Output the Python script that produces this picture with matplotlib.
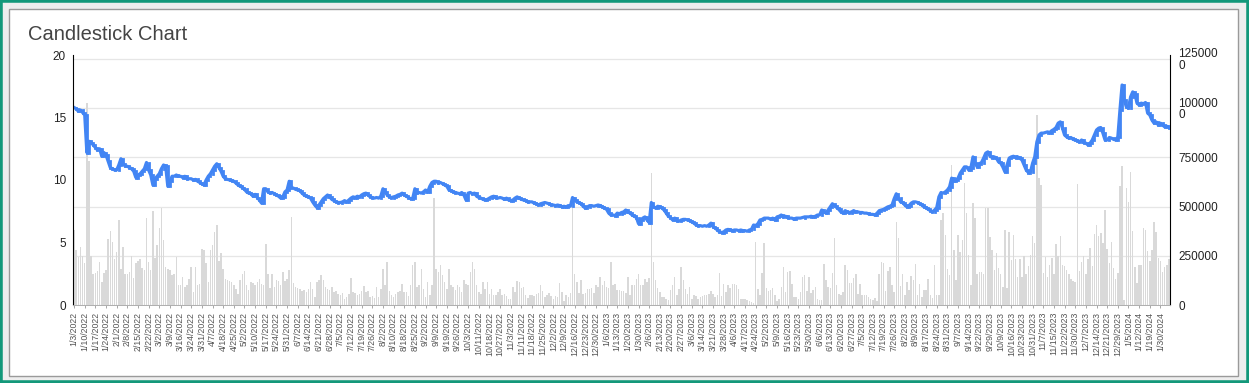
import numpy as np
import matplotlib.pyplot as plt
from matplotlib.patches import Rectangle

plt.rcParams['font.family'] = ['Liberation Sans', 'DejaVu Sans']

W, H = 1249, 383

# x labels, one every 5 trading sessions
tick_labels = [
    '1/3/2022', '1/10/2022', '1/17/2022', '1/24/2022', '2/1/2022', '2/8/2022', '2/15/2022',
    '2/22/2022', '3/2/2022', '3/9/2022', '3/16/2022', '3/24/2022', '3/31/2022', '4/7/2022',
    '4/18/2022', '4/25/2022', '5/2/2022', '5/10/2022', '5/17/2022', '5/24/2022', '5/31/2022',
    '6/7/2022', '6/14/2022', '6/21/2022', '6/28/2022', '7/5/2022', '7/12/2022', '7/19/2022',
    '7/26/2022', '8/2/2022', '8/10/2022', '8/18/2022', '8/25/2022', '9/2/2022', '9/9/2022',
    '9/19/2022', '9/26/2022', '10/3/2022', '10/11/2022', '10/18/2022', '10/27/2022', '11/3/2022',
    '11/11/2022', '11/18/2022', '11/25/2022', '12/2/2022', '12/9/2022', '12/16/2022', '12/23/2022',
    '12/30/2022',
    '1/6/2023', '1/13/2023', '1/20/2023', '1/30/2023', '2/6/2023', '2/13/2023', '2/20/2023',
    '2/27/2023', '3/6/2023', '3/14/2023', '3/21/2023', '3/28/2023', '4/6/2023', '4/17/2023',
    '4/24/2023', '5/2/2023', '5/9/2023', '5/16/2023', '5/23/2023', '5/30/2023', '6/6/2023',
    '6/13/2023', '6/20/2023', '6/27/2023', '7/5/2023', '7/12/2023', '7/19/2023', '7/26/2023',
    '8/2/2023', '8/9/2023', '8/17/2023', '8/24/2023', '8/31/2023', '9/7/2023', '9/14/2023',
    '9/22/2023', '9/29/2023', '10/9/2023', '10/16/2023', '10/23/2023', '10/31/2023', '11/7/2023',
    '11/15/2023', '11/22/2023', '11/30/2023', '12/7/2023', '12/14/2023', '12/21/2023',
    '12/29/2023',
    '1/5/2024', '1/12/2024', '1/19/2024', '1/30/2024',
]

# daily close, one row per 5 sessions
close = [
    15.8, 15.7, 15.5, 15.6, 15.4,   15.2, 12.2, 13.1, 13.0, 12.8,
    12.6, 12.4, 12.5, 11.9, 12.2,   12.0, 11.5, 11.0, 10.9, 10.8,
    10.8, 11.2, 11.7, 11.3, 11.1,   11.1, 11.0, 10.9, 10.7, 10.2,
    10.4, 10.5, 10.7, 10.9, 11.4,   10.8, 10.4, 9.6, 10.1, 10.3,
    10.5, 10.9, 11.2, 11.1, 9.5,    9.9, 10.3, 10.3, 10.4, 10.3,
    10.3, 10.2, 10.3, 10.1, 10.1,   10.1, 10.0, 10.05, 9.9, 9.8,
    9.7, 9.6, 10.0, 10.3, 10.5,     10.8, 11.1, 11.3, 11.0, 10.7,
    10.3, 10.1, 10.05, 10.0, 9.95,  9.9, 9.75, 9.6, 9.5, 9.4,
    9.25, 9.05, 8.95, 8.9, 8.7,     8.85, 8.6, 8.4, 8.15, 9.3,
    9.3, 9.05, 8.95, 9.0, 8.9,      8.8, 8.7, 8.55, 8.65, 9.05,
    9.2, 9.9, 9.4, 9.35, 9.25,      9.2, 9.15, 8.95, 8.8, 8.7,
    8.65, 8.55, 8.25, 8.0, 7.8,     8.0, 8.25, 8.5, 8.65, 8.8,
    8.65, 8.45, 8.35, 8.25, 8.2,    8.2, 8.25, 8.35, 8.25, 8.4,
    8.55, 8.65, 8.6, 8.7, 8.65,     8.8, 8.9, 8.95, 8.8, 8.65,
    8.6, 8.55, 8.6, 8.55, 8.7,      9.3, 9.05, 8.8, 8.65, 8.6,
    8.65, 8.7, 8.8, 8.85, 8.95,     8.8, 8.7, 8.6, 8.5, 8.55,
    9.3, 8.95, 9.0, 8.95, 9.05,     9.2, 9.05, 9.5, 9.8, 9.9,
    9.9, 9.75, 9.8, 9.7, 9.6,       9.5, 9.2, 9.15, 9.05, 9.0,
    8.95, 8.9, 9.0, 8.8, 8.4,       8.95, 9.0, 8.9, 8.95, 8.7,
    8.6, 8.55, 8.45, 8.4, 8.45,     8.55, 8.65, 8.7, 8.6, 8.55,
    8.6, 8.55, 8.45, 8.55, 8.4,     8.35, 8.4, 8.55, 8.65, 8.55,
    8.45, 8.4, 8.35, 8.25, 8.25,    8.25, 8.15, 8.1, 8.0, 8.1,
    8.15, 8.2, 8.15, 8.1, 8.0,      8.0, 7.95, 8.0, 7.95, 7.85,
    7.9, 7.85, 7.95, 7.9, 8.6,      8.4, 8.25, 8.2, 8.1, 7.9,
    7.75, 7.85, 7.95, 7.95, 7.9,    7.95, 8.0, 7.95, 7.85, 7.75,
    7.65, 7.35, 7.2, 7.2, 7.15,     7.35, 7.3, 7.4, 7.45, 7.6,
    7.45, 7.35, 7.2, 7.1, 7.0,      6.5, 6.8, 6.95, 7.05, 6.8,
    6.6, 8.2, 7.85, 7.75, 7.9,      7.85, 7.75, 7.6, 7.35, 7.1,
    7.0, 6.8, 6.95, 6.75, 6.7,      6.8, 6.85, 6.85, 6.8, 6.75,
    6.65, 6.55, 6.4, 6.35, 6.35,    6.3, 6.35, 6.3, 6.4, 6.55,
    6.25, 6.15, 6.0, 5.85, 5.8,     5.85, 6.0, 6.05, 6.0, 5.95,
    6.0, 6.0, 5.95, 6.0, 5.95,      5.95, 5.9, 6.0, 6.05, 6.4,
    6.35, 6.5, 6.8, 6.85, 6.95,     6.95, 6.95, 6.85, 6.95, 6.8,
    7.05, 7.1, 7.2, 7.05, 7.1,      7.0, 6.95, 6.95, 6.85, 6.95,
    6.95, 6.95, 7.0, 7.05, 7.05,    7.05, 7.1, 7.05, 7.1, 7.2,
    7.2, 7.6, 7.45, 7.35, 7.6,      7.85, 8.1, 7.95, 7.8, 7.65,
    7.45, 7.35, 7.55, 7.45, 7.4,    7.45, 7.55, 7.45, 7.45, 7.4,
    7.4, 7.35, 7.35, 7.3, 7.25,     7.25, 7.2, 7.35, 7.55, 7.6,
    7.65, 7.75, 7.85, 7.9, 8.0,     8.5, 8.9, 8.55, 8.25, 8.2,
    8.0, 7.85, 7.95, 8.15, 8.25,    8.25, 8.2, 8.1, 8.0, 7.85,
    7.8, 7.65, 7.55, 7.45, 7.6,     7.8, 8.65, 9.0, 8.95, 9.05,
    9.2, 9.45, 10.15, 9.9, 10.0,    10.15, 10.55, 10.8, 11.05, 11.05,
    10.8, 10.95, 11.85, 11.35, 11.05,  11.3, 11.4, 11.75, 12.15, 12.25,
    11.9, 11.8, 11.85, 11.75, 11.45,   11.35, 11.05, 10.65, 11.2, 11.75,
    11.85, 11.9, 11.8, 11.85, 11.75,   11.6, 11.2, 10.8, 10.6, 10.65,
    11.35, 11.85, 13.05, 13.6, 13.75,  13.75, 13.8, 13.85, 13.8, 13.95,
    14.05, 14.2, 14.55, 14.65, 14.15,  13.6, 13.45, 13.35, 13.4, 13.25,
    13.2, 13.15, 13.05, 13.2, 13.0,    12.95, 12.8, 12.95, 13.2, 13.6,
    14.0, 14.15, 14.2, 13.75, 13.2,    13.2, 13.4, 13.35, 13.25, 13.2,
    13.45, 15.6, 17.6, 16.4, 15.85,    15.75, 16.65, 17.05, 16.9, 16.15,
    16.0, 16.15, 16.1, 16.2, 15.35,    15.2, 14.8, 14.55, 14.65, 14.4,
    14.55, 14.4, 14.25, 14.3, 14.2,
]

# daily volume (thousands), 2022 H1 .. 2024
vol_a = [
    381, 279, 245, 296, 250, 211, 1027, 729, 250, 155,
    163, 173, 219, 117, 165, 180, 335, 377, 321, 236,
    270, 432, 185, 296, 160, 155, 168, 250, 138, 211,
    226, 233, 189, 177, 440, 219, 177, 478, 240, 304,
    389, 495, 330, 194, 185, 177, 150, 160, 245, 100,
    100, 143, 92, 100, 131, 194, 66, 194, 100, 109,
    287, 279, 211, 117, 279, 304, 372, 406, 223, 262,
    185, 134, 126, 121, 117, 100, 80, 58, 126, 155,
    175, 100, 75, 117, 114,
]
vol_b = [
    100, 117, 134, 109, 100, 308, 155, 87, 155, 92,
    126, 121, 104, 168, 121, 131, 177, 445, 112, 92,
    87, 80, 70, 75, 66, 80, 117, 83, 41, 117,
    126, 151, 126, 92, 83, 75, 92, 66, 70, 58,
    53, 63, 29, 41, 58, 138, 66, 63, 53, 58,
    70, 97, 66, 70, 41, 46, 36, 92, 41, 80,
    185, 100, 219, 70, 49, 41, 58, 66, 70, 109,
    66, 66, 46, 100, 202, 219, 92, 100, 185, 83,
    41, 117, 49, 100, 542, 185,
]
vol_c = [
    168, 202, 151, 117, 83, 185, 100, 92, 75, 100,
    92, 66, 126, 109, 100, 168, 216, 185, 100, 66,
    58, 117, 83, 117, 58, 80, 49, 49, 66, 80,
    53, 58, 46, 32, 29, 92, 66, 121, 117, 87,
    92, 49, 36, 49, 53, 46, 58, 63, 104, 70,
    41, 53, 63, 46, 29, 46, 41, 114, 66, 19,
    53, 41, 63, 542, 160, 117, 63, 126, 58, 63,
    80, 83, 87, 63, 100, 92, 143, 104, 121, 92,
    87, 216, 100, 109, 75, 75, 70,
]
vol_d = [
    70, 63, 143, 49, 104, 104, 134, 160, 100, 100,
    134, 117, 138, 670, 216, 126, 87, 66, 41, 41,
    32, 24, 75, 100, 143, 49, 83, 194, 126, 80,
    58, 92, 32, 49, 46, 32, 41, 46, 49, 53,
    58, 70, 58, 41, 49, 165, 46, 109, 66, 104,
    87, 109, 109, 104, 80, 32, 32, 29, 24, 19,
    15, 12, 318, 80, 49, 165, 313, 87, 70, 78,
    87, 49, 19, 29, 92, 194, 66, 168, 172, 109,
    41, 39, 29, 66, 143, 151,
]
vol_e = [
    70, 143, 63, 75, 92, 32, 27, 26, 209, 128,
    92, 87, 165, 338, 100, 58, 49, 66, 202, 177,
    114, 114, 138, 160, 58, 109, 49, 49, 53, 41,
    32, 24, 36, 19, 160, 219, 211, 70, 172, 194,
    104, 66, 423, 342, 97, 160, 49, 117, 75, 148,
    126, 206, 49, 109, 41, 75, 75, 131, 49, 36,
    202, 53, 53, 432, 466, 355, 182, 151, 712, 279,
    126, 355, 270, 330, 619, 466, 253, 100, 517, 440,
    155, 168, 168, 160, 495, 491,
]
vol_f = [
    347, 279, 177, 262, 189, 160, 92, 381, 87, 372,
    228, 355, 233, 143, 233, 143, 250, 160, 199, 253,
    352, 313, 967, 644, 610, 165, 245, 143, 202, 240,
    155, 308, 250, 352, 202, 199, 177, 160, 131, 121,
    117, 614, 172, 216, 250, 155, 233, 291, 199, 359,
    406, 352, 364, 313, 483, 287, 214, 318, 189, 131,
    165, 607, 704, 24, 593, 525, 678, 376, 194, 114,
    202, 202, 389, 381, 274, 223, 279, 423, 372, 240,
    223, 168, 194, 202, 236,
]

volume = np.array(vol_a + vol_b + vol_c + vol_d + vol_e + vol_f) * 1000
close = np.array(close)
n = len(close)
x = np.arange(n)
opn = np.r_[close[0], close[:-1]]

blue = '#4285F4'

fig = plt.figure(figsize=(W / 100, H / 100), dpi=100, facecolor='#eeeeee')

# white card with grey frame, teal outer border
fig.patches.append(Rectangle((9 / W, 1 - 376 / H), (1238 - 9) / W, (376 - 9) / H,
                             transform=fig.transFigure, facecolor='white',
                             edgecolor='#9a9a9a', lw=1.0, zorder=-5))
fig.patches.append(Rectangle((0, 0), 1, 1, transform=fig.transFigure, fill=False,
                             edgecolor='#13987a', lw=4, zorder=-5))

fig.text(28 / W, 1 - 35 / H, 'Candlestick Chart', fontsize=14.5, color='#444444',
         va='center', ha='left')

ax = fig.add_axes([73 / W, 1 - 305 / H, (1170 - 73) / W, 250 / H])
ax2 = ax.twinx()

# volume bars on the right axis
ax2.bar(x, volume, width=0.7, color='#d9d9d9', linewidth=0)
ax2.set_ylim(0, 1270000)
ax2.set_yticks([0, 250000, 500000, 750000, 1000000, 1250000])
ax2.set_yticklabels(['0', '250000', '500000', '750000', '100000\n0', '125000\n0'],
                    linespacing=0.95)
ax2.yaxis.grid(True, color='#e6e6e6', lw=0.9)
ax2.set_axisbelow(True)
ax2.tick_params(axis='y', length=0, pad=6, labelsize=8.5, labelcolor='#222222')

# candles: body from open to close, thick enough to read as a band
lo = np.minimum(opn, close)
hi = np.maximum(opn, close)
bodies = ax.vlines(x, lo, hi, color=blue, lw=2.0)
bodies.set_capstyle('projecting')
ax.plot(x, close, color=blue, lw=2.3, solid_joinstyle='round')

ax2.set_zorder(1)
ax.set_zorder(2)
ax.patch.set_visible(False)
ax2.patch.set_visible(False)

ax.set_xlim(-0.5, n - 0.5)
ax.set_ylim(0, 20)
ax.set_yticks([0, 5, 10, 15, 20])
ax.tick_params(axis='y', length=0, pad=5, labelsize=8.5, labelcolor='#222222')

ax.set_xticks(np.arange(0, n, 5)[:len(tick_labels)])
ax.set_xticklabels(tick_labels, rotation=90, fontsize=6.3, color='#555555')
ax.tick_params(axis='x', length=2, width=0.6, color='#999999', pad=3)

for a in (ax, ax2):
    a.spines['top'].set_visible(False)
    a.spines['bottom'].set_color('#b0b0b0')
    a.spines['bottom'].set_linewidth(0.7)
ax.spines['right'].set_visible(False)
ax2.spines['left'].set_visible(False)
ax.spines['left'].set_color('black')
ax2.spines['right'].set_color('black')

fig.savefig('out.png', dpi=100, facecolor=fig.get_facecolor())
